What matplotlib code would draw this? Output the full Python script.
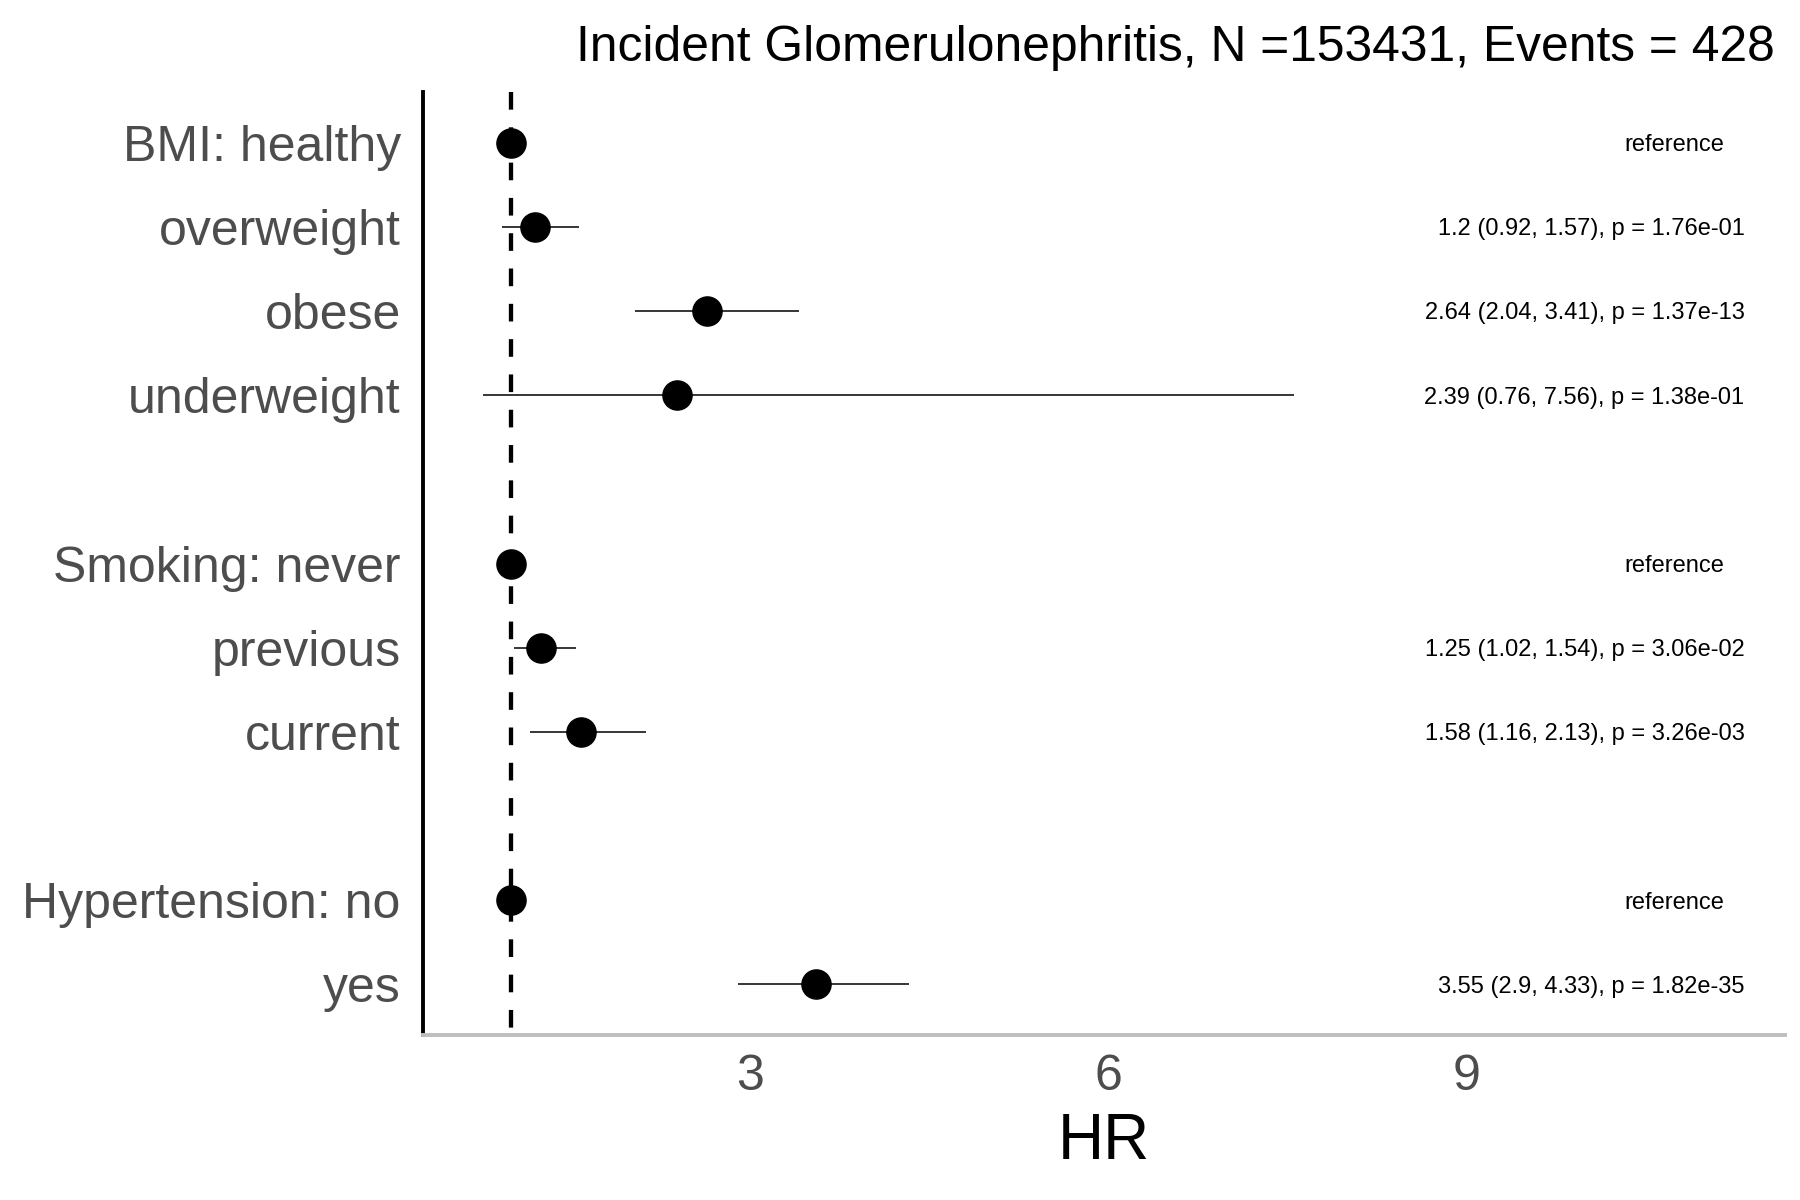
import numpy as np
import matplotlib
matplotlib.use("Agg")
import matplotlib.pyplot as plt

plt.rcParams['font.family'] = ['Liberation Sans', 'DejaVu Sans']

# Forest plot rows, top to bottom ("" = spacer row)
row_labels = ["BMI: healthy", "overweight", "obese", "underweight", "",
              "Smoking: never", "previous", "current", "",
              "Hypertension: no", "yes"]
hr = [1, 1.2, 2.64, 2.39, np.nan, 1, 1.25, 1.58, np.nan, 1, 3.55]
ci_low = [np.nan, 0.92, 2.04, 0.76, np.nan, np.nan, 1.02, 1.16, np.nan, np.nan, 2.9]
ci_high = [np.nan, 1.57, 3.41, 7.56, np.nan, np.nan, 1.54, 2.13, np.nan, np.nan, 4.33]
p_values = [None, "1.76e-01", "1.37e-13", "1.38e-01", None,
            None, "3.06e-02", "3.26e-03", None, None, "1.82e-35"]
is_reference = [True, False, False, False, False, True, False, False, False, True, False]

title = "Incident Glomerulonephritis, N =153431, Events = 428"
x_ticks = [3, 6, 9]


def make_label(i):
    if is_reference[i]:
        return "reference"
    if p_values[i] is None:
        return ""
    return "%s (%s, %s), p = %s" % (hr[i], ci_low[i], ci_high[i], p_values[i])


def main():
    fig = plt.figure(figsize=(18, 12), dpi=100)
    ax = fig.add_axes([0.235, 0.1375, 0.7567, 0.7858])

    ys = np.arange(len(row_labels))

    # reference line at HR = 1, drawn top-down so the dash phase starts at the top
    ax.axvline(1, ymin=1, ymax=0, color="black", lw=3.1,
               linestyle=(0, (4.1, 4.1)), zorder=1)

    # confidence intervals and point estimates
    ax.hlines(ys, ci_low, ci_high, color="black", lw=1.1, zorder=2)
    ax.plot(hr, ys, "o", color="black", ms=21, zorder=3)

    # text annotations on the right
    for i in range(len(row_labels)):
        txt = make_label(i)
        if txt == "":
            continue
        if is_reference[i]:
            ax.text(10.74, ys[i], txt, ha="center", va="center_baseline", fontsize=17)
        else:
            ax.text(11.33, ys[i], txt, ha="right", va="center_baseline", fontsize=17)

    ax.set_xlim(0.26, 11.67)
    ax.set_ylim(len(row_labels) - 1 + 0.6, -0.6)

    ax.set_yticks(ys)
    ax.set_yticklabels(row_labels)
    ax.set_xticks(x_ticks)
    ax.tick_params(axis="y", length=0, labelsize=36, labelcolor="#4D4D4D", pad=16)
    ax.tick_params(axis="x", length=0, labelsize=36, labelcolor="#4D4D4D", pad=14)

    for side in ["top", "right"]:
        ax.spines[side].set_visible(False)
    ax.spines["left"].set_color("black")
    ax.spines["left"].set_linewidth(2.8)
    ax.spines["bottom"].set_color("#BEBEBE")
    ax.spines["bottom"].set_linewidth(2.8)

    ax.set_xlabel("HR", fontsize=46, color="black", labelpad=8)
    fig.text(0.986, 0.949, title, ha="right", va="baseline", fontsize=35.8)

    fig.savefig("out.png", dpi=100, facecolor="white")


if __name__ == "__main__":
    main()
